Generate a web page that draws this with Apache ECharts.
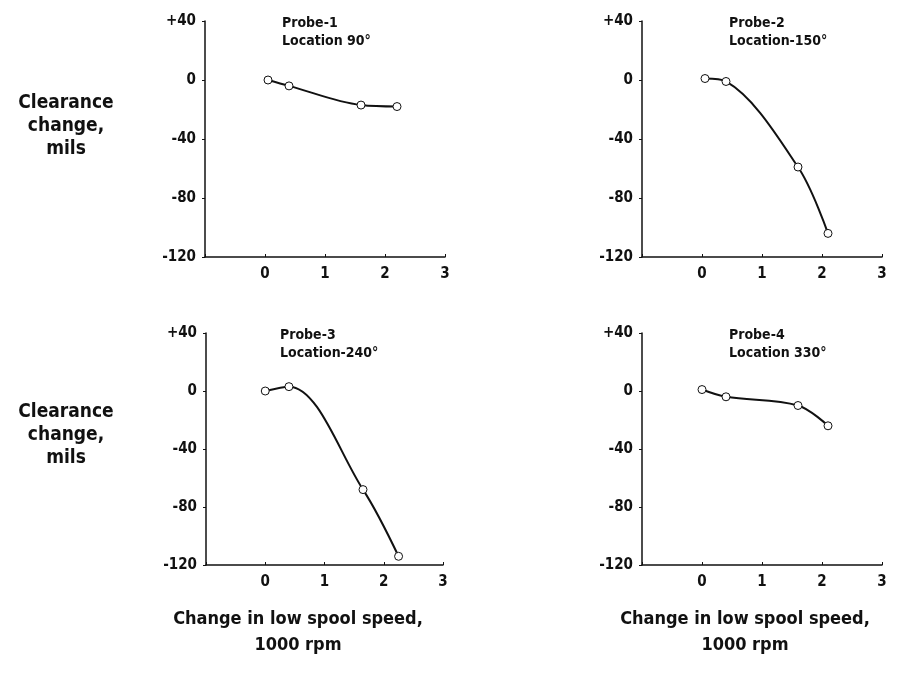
<!DOCTYPE html>
<html>
<head>
<meta charset="utf-8">
<title>Clearance change vs low spool speed</title>
<script src="https://cdn.jsdelivr.net/npm/echarts@6/dist/echarts.min.js"></script>
<style>
  html, body { margin: 0; padding: 0; background: #fff; }
  #chart { width: 911px; height: 676px; }
</style>
</head>
<body>
<div id="chart"></div>
<script>
// speed change (1000 rpm) and clearance change (mils) for each probe
const speedProbe1 = [0.05, 0.4, 1.6, 2.2];
const clearProbe1 = [0, -4, -17, -18];
const speedProbe2 = [0.05, 0.4, 1.6, 2.1];
const clearProbe2 = [1, -1, -59, -104];
const speedProbe3 = [0, 0.4, 1.65, 2.25];
const clearProbe3 = [0, 3, -68, -114];
const speedProbe4 = [0, 0.4, 1.6, 2.1];
const clearProbe4 = [1, -4, -10, -24];

const probeNames = ["Probe-1", "Probe-2", "Probe-3", "Probe-4"];
const locations = ["Location 90°", "Location-150°", "Location-240°", "Location 330°"];
const yTicks = [40, 0, -40, -80, -120];
const xTicks = [0, 1, 2, 3];

const FONT = "'Liberation Sans Narrow', 'DejaVu Sans Condensed', 'Arial Narrow', sans-serif";
const INK = "#111";

const chart = echarts.init(document.getElementById("chart"));

const grids = [
  { left: 205, top: 21, width: 240, height: 236 },
  { left: 642, top: 21, width: 240, height: 236 },
  { left: 206, top: 333, width: 237, height: 232 },
  { left: 642, top: 333, width: 240, height: 232 }
];

const xs = [speedProbe1, speedProbe2, speedProbe3, speedProbe4];
const ys = [clearProbe1, clearProbe2, clearProbe3, clearProbe4];

const xAxis = grids.map((g, i) => ({
  type: "value",
  gridIndex: i,
  min: -1,
  max: 3,
  interval: 1,
  splitLine: { show: false },
  axisLine: { show: true, onZero: false, lineStyle: { color: INK, width: 1.5 } },
  axisTick: { show: true, inside: true, length: 3, lineStyle: { color: INK } },
  axisLabel: {
    color: INK,
    fontFamily: FONT,
    fontWeight: "bold",
    fontSize: 15,
    margin: 10,
    formatter: v => (xTicks.includes(v) ? String(v) : "")
  }
}));

const yAxis = grids.map((g, i) => ({
  type: "value",
  gridIndex: i,
  min: -120,
  max: 40,
  interval: 40,
  splitLine: { show: false },
  axisLine: { show: true, onZero: false, lineStyle: { color: INK, width: 1.5 } },
  axisTick: { show: true, length: 3, lineStyle: { color: INK } },
  axisLabel: {
    color: INK,
    fontFamily: FONT,
    fontWeight: "bold",
    fontSize: 15,
    margin: 9,
    formatter: v => (yTicks.includes(v) ? (v > 0 ? "+" + v : String(v)) : "")
  }
}));

const series = xs.map((xv, i) => ({
  type: "line",
  xAxisIndex: i,
  yAxisIndex: i,
  smooth: 0.35,
  data: xv.map((x, k) => [x, ys[i][k]]),
  lineStyle: { color: INK, width: 2 },
  symbol: "circle",
  symbolSize: 8,
  itemStyle: { color: "#fff", borderColor: INK, borderWidth: 1 },
  z: 3
}));

const titleLeft = [277, 724, 275, 724];
const titleTop = [9, 9, 321, 321];

const title = probeNames.map((n, i) => ({
  text: n + "\n" + locations[i],
  left: titleLeft[i],
  top: titleTop[i],
  textStyle: {
    color: INK,
    fontFamily: FONT,
    fontWeight: "bold",
    fontSize: 14,
    lineHeight: 18
  }
}));

const sideLabel = (y) => ({
  type: "text",
  x: 66,
  y: y,
  style: { text: "Clearance\nchange,\nmils", fill: INK, font: "bold 19px " + FONT, align: "center", lineHeight: 23 }
});

const bottomLabel = (x) => ({
  type: "text",
  x: x,
  y: 606,
  style: { text: "Change in low spool speed,\n1000 rpm", fill: INK, font: "bold 18px " + FONT, align: "center", lineHeight: 26 }
});

chart.setOption({
  backgroundColor: "#fff",
  animation: false,
  title: title,
  grid: grids,
  xAxis: xAxis,
  yAxis: yAxis,
  series: series,
  graphic: [sideLabel(92), sideLabel(401), bottomLabel(298), bottomLabel(745)]
});
</script>
</body>
</html>
